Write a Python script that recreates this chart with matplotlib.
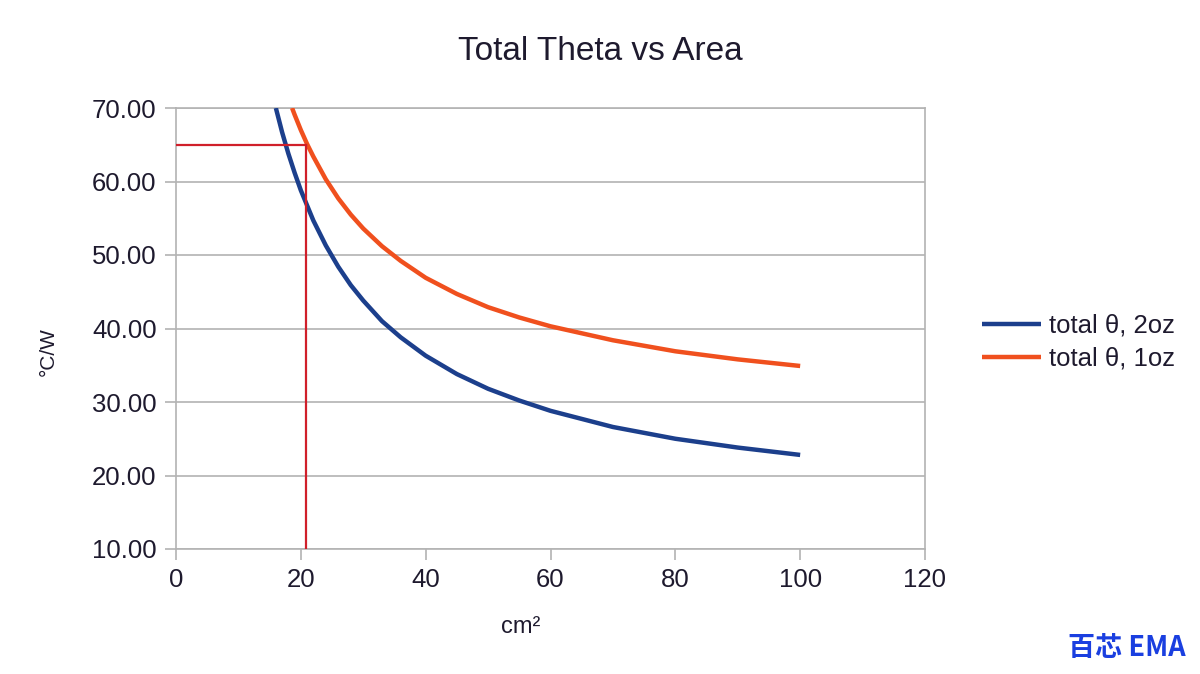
#!/usr/bin/env python3

import matplotlib
matplotlib.use("Agg")
import matplotlib.pyplot as plt

# values
area_2oz = [16, 17, 18, 19, 20, 22, 24, 26, 28, 30, 33, 36, 40, 45, 50, 55, 60, 70, 80, 90, 100]
theta_2oz = [70.0, 66.7, 63.8, 61.2, 58.8, 54.7, 51.3, 48.4, 45.9, 43.8, 41.0, 38.8,
             36.3, 33.8, 31.8, 30.2, 28.8, 26.6, 25.0, 23.8, 22.8]

area_1oz = [18.6, 19, 20, 21, 22, 24, 26, 28, 30, 33, 36, 40, 45, 50, 55, 60, 70, 80, 90, 100]
theta_1oz = [70.0, 69.1, 67.0, 65.1, 63.4, 60.3, 57.7, 55.5, 53.6, 51.2, 49.2, 46.9,
             44.7, 42.9, 41.5, 40.3, 38.4, 36.9, 35.8, 34.9]

# operating point marker (red cross-hair)
mark_area = 20.8
mark_theta = 65.0

xticks = [0, 20, 40, 60, 80, 100, 120]
yticks = [10, 20, 30, 40, 50, 60, 70]

TEXT = "#1e1a2e"
GRID = "#b3b3b3"

plt.rcParams["font.family"] = ["Liberation Sans", "DejaVu Sans"]

fig = plt.figure(figsize=(12, 6.74), dpi=100)
ax = fig.add_axes([176 / 1200, 1 - 549 / 674, (925 - 176) / 1200, (549 - 108) / 674])

ax.plot(area_2oz, theta_2oz, color="#1c3f8c", lw=3.2, label="total θ, 2oz",
        solid_capstyle="butt", zorder=3)
ax.plot(area_1oz, theta_1oz, color="#f0501e", lw=3.2, label="total θ, 1oz",
        solid_capstyle="butt", zorder=3)

ax.plot([0, mark_area], [mark_theta, mark_theta], color="#d01f2a", lw=1.6, zorder=4)
ax.plot([mark_area, mark_area], [10, mark_theta], color="#d01f2a", lw=1.6, zorder=4)

ax.set_xlim(0, 120)
ax.set_ylim(10, 70)
ax.set_xticks(xticks)
ax.set_yticks(yticks)
ax.set_yticklabels([f"{v:.2f}" for v in yticks])

ax.grid(axis="y", color=GRID, lw=1.2)
ax.set_axisbelow(True)
for s in ax.spines.values():
    s.set_color(GRID)
    s.set_linewidth(1.2)
ax.tick_params(direction="out", length=8, width=1.2, color=GRID,
               labelsize=18.5, labelcolor=TEXT, pad=6)

fig.text(600 / 1200, 1 - 52 / 674, "Total Theta vs Area", fontsize=24, color=TEXT,
         ha="center", va="center")
fig.text(521 / 1200, 1 - 627 / 674, "cm²", fontsize=17, color=TEXT,
         ha="center", va="center")
fig.text(48 / 1200, 1 - 352 / 674, "°C/W", fontsize=15, color=TEXT,
         ha="center", va="center", rotation=90)

ax.legend(loc="center left", bbox_to_anchor=(969 / 1200, 332 / 674),
          bbox_transform=fig.transFigure, frameon=False, fontsize=18.5,
          handlelength=2.3, handletextpad=0.3, labelspacing=0.35,
          labelcolor=TEXT, borderpad=0)

fig.text(1127 / 1200, 1 - 648 / 674, "百芯 EMA", fontsize=19.5, fontweight="bold",
         color="#1a3fe0", ha="center", va="center",
         family=["Noto Sans CJK SC", "DejaVu Sans"])

fig.savefig("out.png", dpi=100, facecolor="white")
